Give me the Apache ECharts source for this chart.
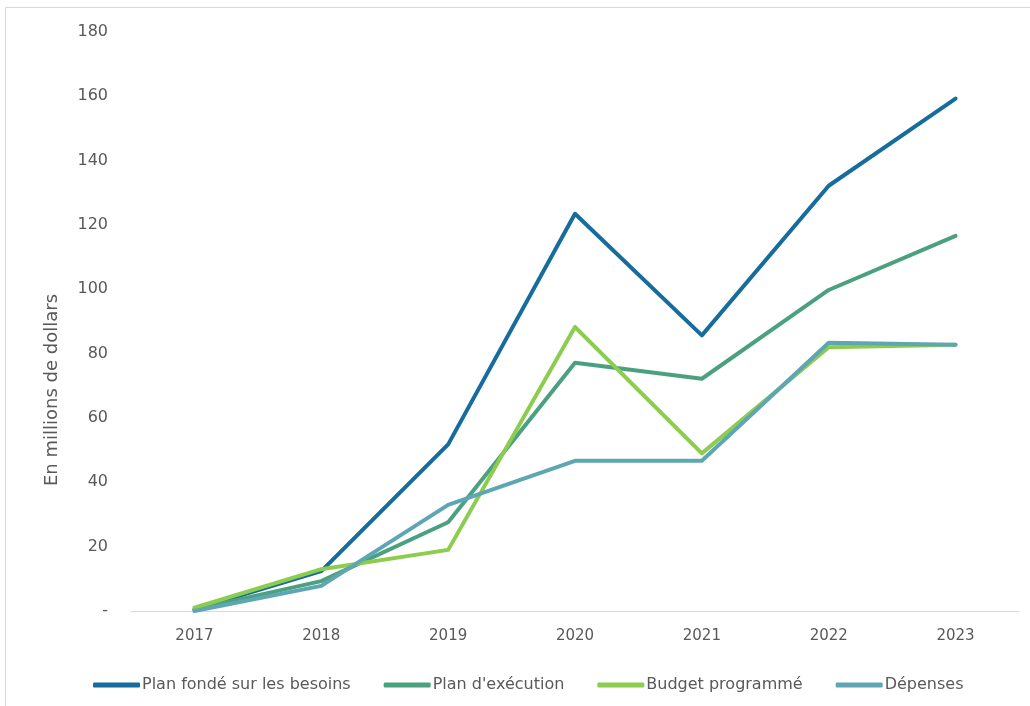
<!DOCTYPE html>
<html><head><meta charset="utf-8">
<script src="https://cdn.jsdelivr.net/npm/echarts@6/dist/echarts.min.js"></script>
<style>html,body{margin:0;padding:0;background:#fff}#c{width:1030px;height:706px}</style>
</head><body><div id="c"></div>
<script>
const categories = ['2017','2018','2019','2020','2021','2022','2023'];
const planBesoins = [0.5, 12.4, 51.8, 123.5, 85.7, 132.2, 159.3];
const planExecution = [0.5, 9.3, 27.6, 77.2, 72.2, 99.8, 116.6];
const budgetProgramme = [1, 13, 19, 88.3, 49, 82, 82.8];
const depenses = [0, 7.8, 33, 46.7, 46.7, 83.4, 82.8];
const seriesNames = ['Plan fondé sur les besoins', "Plan d'exécution", 'Budget programmé', 'Dépenses'];
const colors = ['#166c9c', '#4ba17f', '#8ccd50', '#5ea6b1'];
const yAxisTitle = 'En millions de dollars';

const font = '"DejaVu Sans", "Open Sans", sans-serif';
const chart = echarts.init(document.getElementById('c'));
const data = [planBesoins, planExecution, budgetProgramme, depenses];
chart.setOption({
  animation: false,
  color: colors,
  graphic: [{
    type: 'rect', shape: {x: 5.5, y: 7.5, width: 1040, height: 720},
    style: {fill: 'none', stroke: '#d9d9d9', lineWidth: 1}, silent: true
  }, {
    type: 'text', x: 52, y: 390, rotation: Math.PI / 2,
    style: {text: yAxisTitle, font: '18px ' + font, fill: '#595959', align: 'center', verticalAlign: 'middle'}
  }],
  grid: {left: 131, right: 11, top: 32, bottom: 95},
  legend: {
    top: 672, left: 88, itemWidth: 47, itemHeight: 5, itemGap: 33, icon: 'roundRect',
    textStyle: {fontFamily: font, fontSize: 16, color: '#595959', padding: [0,0,0,-3]},
    data: seriesNames
  },
  xAxis: {
    type: 'category', data: categories, boundaryGap: true,
    axisLine: {lineStyle: {color: '#d9d9d9', width: 1}},
    axisTick: {show: false},
    axisLabel: {fontFamily: font, fontSize: 15, color: '#595959', margin: 18}
  },
  yAxis: {
    type: 'value', min: 0, max: 180, interval: 20,
    splitLine: {show: false}, axisLine: {show: false}, axisTick: {show: false},
    axisLabel: {fontFamily: font, fontSize: 16, color: '#595959', margin: 23,
      formatter: v => v === 0 ? '-' : String(v)}
  },
  series: data.map((d, i) => ({
    name: seriesNames[i], type: 'line', data: d, showSymbol: false, symbol: 'none',
    lineStyle: {width: 4, color: colors[i], cap: 'round', join: 'round'}
  }))
});
</script></body></html>
